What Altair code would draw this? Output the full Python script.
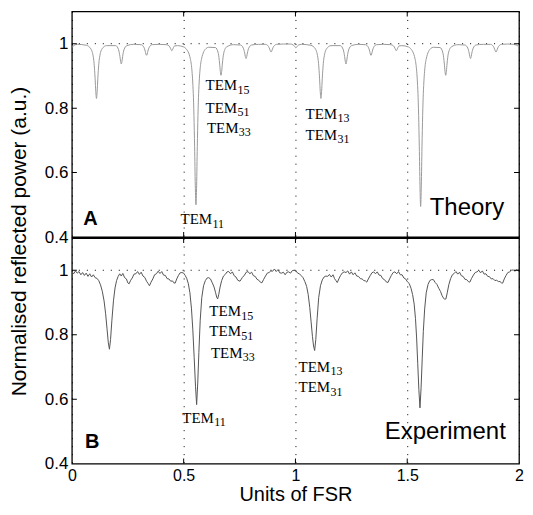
import altair as alt
import pandas as pd

# ---------------- data ----------------
theory_x = [
    0.000, 0.004, 0.010, 0.025,
    0.065, 0.085, 0.098, 0.104, 0.107, 0.110, 0.113, 0.116, 0.122, 0.135, 0.155,
    0.196, 0.209, 0.215, 0.218, 0.221, 0.224, 0.227, 0.233, 0.246, 0.277,
    0.309, 0.322, 0.328, 0.331, 0.334, 0.337, 0.340, 0.346, 0.359, 0.390,
    0.422, 0.435, 0.441, 0.444, 0.447, 0.450, 0.453, 0.459, 0.472,
    0.500, 0.510, 0.530, 0.543, 0.549, 0.552, 0.555, 0.558, 0.561, 0.567, 0.580, 0.600, 0.612,
    0.642, 0.655, 0.661, 0.664, 0.667, 0.670, 0.673, 0.679, 0.692, 0.723,
    0.754, 0.767, 0.773, 0.776, 0.779, 0.782, 0.785, 0.791, 0.804, 0.835,
    0.866, 0.879, 0.885, 0.888, 0.891, 0.894, 0.897, 0.903, 0.916, 0.946,
    0.977, 0.990, 0.996, 0.999, 1.002, 1.005, 1.008, 1.014, 1.027,
    1.069, 1.089, 1.102, 1.108, 1.111, 1.114, 1.117, 1.120, 1.126, 1.139, 1.159,
    1.201, 1.214, 1.220, 1.223, 1.226, 1.229, 1.232, 1.238, 1.251, 1.282,
    1.313, 1.326, 1.332, 1.335, 1.338, 1.341, 1.344, 1.350, 1.363, 1.394,
    1.426, 1.439, 1.445, 1.448, 1.451, 1.454, 1.457, 1.463, 1.476,
    1.505, 1.515, 1.535, 1.548, 1.554, 1.557, 1.560, 1.563, 1.566, 1.572, 1.585, 1.605, 1.617,
    1.647, 1.660, 1.666, 1.669, 1.672, 1.675, 1.678, 1.684, 1.697, 1.727,
    1.758, 1.771, 1.777, 1.780, 1.783, 1.786, 1.789, 1.795, 1.808, 1.840,
    1.872, 1.885, 1.891, 1.894, 1.897, 1.900, 1.903, 1.909, 1.922, 1.950, 1.975, 1.990, 2.000,
]
theory_y = [
    0.988, 0.991, 0.995, 0.998,
    0.995, 0.984, 0.948, 0.891, 0.851, 0.830, 0.851, 0.891, 0.948, 0.984, 0.994,
    0.994, 0.981, 0.960, 0.945, 0.937, 0.945, 0.960, 0.981, 0.994, 0.998,
    0.997, 0.989, 0.977, 0.968, 0.964, 0.968, 0.977, 0.989, 0.997, 0.998,
    0.997, 0.993, 0.986, 0.981, 0.978, 0.981, 0.986, 0.993, 0.994,
    0.990, 0.985, 0.953, 0.846, 0.680, 0.561, 0.500, 0.561, 0.680, 0.846, 0.953, 0.985, 0.989,
    0.988, 0.970, 0.937, 0.914, 0.902, 0.914, 0.937, 0.970, 0.990, 0.997,
    0.996, 0.986, 0.971, 0.960, 0.954, 0.960, 0.971, 0.986, 0.996, 0.998,
    0.998, 0.992, 0.983, 0.977, 0.974, 0.977, 0.983, 0.992, 0.998, 0.999,
    0.999, 0.996, 0.992, 0.989, 0.987, 0.989, 0.992, 0.996, 0.998,
    0.995, 0.984, 0.948, 0.891, 0.851, 0.830, 0.851, 0.891, 0.948, 0.984, 0.994,
    0.994, 0.981, 0.960, 0.945, 0.937, 0.945, 0.960, 0.981, 0.994, 0.998,
    0.997, 0.989, 0.977, 0.968, 0.964, 0.968, 0.977, 0.989, 0.997, 0.998,
    0.997, 0.993, 0.986, 0.981, 0.978, 0.981, 0.986, 0.993, 0.994,
    0.990, 0.985, 0.953, 0.846, 0.680, 0.561, 0.495, 0.561, 0.680, 0.846, 0.953, 0.985, 0.989,
    0.988, 0.970, 0.937, 0.914, 0.902, 0.914, 0.937, 0.970, 0.990, 0.997,
    0.996, 0.986, 0.971, 0.960, 0.954, 0.960, 0.971, 0.986, 0.996, 0.998,
    0.998, 0.992, 0.983, 0.977, 0.974, 0.977, 0.983, 0.992, 0.998, 0.999, 0.998, 0.995, 0.991,
]

exp_x = [
    0.000, 0.008, 0.016, 0.024, 0.032, 0.040, 0.048, 0.056, 0.064, 0.072, 0.080, 0.088, 0.096, 0.104,
    0.112, 0.120, 0.128, 0.136, 0.144, 0.151, 0.157, 0.163, 0.168, 0.173, 0.179, 0.186, 0.193, 0.200,
    0.207, 0.214, 0.221, 0.228, 0.236, 0.244, 0.250, 0.256, 0.263, 0.270, 0.278, 0.286, 0.294, 0.302,
    0.310, 0.318, 0.326, 0.334, 0.341, 0.347, 0.354, 0.362, 0.370, 0.378, 0.386, 0.394, 0.402, 0.410,
    0.418, 0.426, 0.434, 0.442, 0.450, 0.456, 0.462, 0.469, 0.476, 0.484, 0.492, 0.500, 0.507, 0.514,
    0.521, 0.528, 0.535, 0.541, 0.547, 0.553, 0.558, 0.563, 0.568, 0.574, 0.581, 0.589, 0.597, 0.605,
    0.612, 0.620, 0.628, 0.636, 0.643, 0.648, 0.652, 0.657, 0.663, 0.670, 0.678, 0.686, 0.694, 0.702,
    0.710, 0.718, 0.726, 0.734, 0.742, 0.752, 0.762, 0.772, 0.780, 0.788, 0.796, 0.804, 0.812, 0.820,
    0.828, 0.836, 0.843, 0.850, 0.858, 0.866, 0.874, 0.882, 0.890, 0.898, 0.906, 0.914, 0.922, 0.930,
    0.938, 0.946, 0.954, 0.962, 0.970, 0.978, 0.986, 0.994, 1.002, 1.010, 1.018, 1.026, 1.034, 1.042,
    1.050, 1.057, 1.064, 1.070, 1.076, 1.081, 1.086, 1.091, 1.097, 1.104, 1.112, 1.120, 1.128, 1.136,
    1.144, 1.152, 1.160, 1.168, 1.175, 1.181, 1.187, 1.194, 1.202, 1.210, 1.218, 1.226, 1.234, 1.242,
    1.250, 1.258, 1.266, 1.274, 1.282, 1.290, 1.298, 1.306, 1.313, 1.319, 1.326, 1.334, 1.342, 1.350,
    1.358, 1.366, 1.374, 1.382, 1.390, 1.398, 1.406, 1.414, 1.421, 1.429, 1.437, 1.445, 1.453, 1.461,
    1.469, 1.477, 1.485, 1.493, 1.501, 1.509, 1.517, 1.524, 1.531, 1.537, 1.542, 1.547, 1.552, 1.557,
    1.562, 1.567, 1.572, 1.578, 1.585, 1.593, 1.601, 1.609, 1.617, 1.625, 1.633, 1.641, 1.649, 1.656,
    1.662, 1.667, 1.673, 1.679, 1.686, 1.694, 1.702, 1.710, 1.718, 1.726, 1.734, 1.742, 1.750, 1.758,
    1.766, 1.773, 1.780, 1.788, 1.796, 1.804, 1.812, 1.820, 1.828, 1.836, 1.844, 1.852, 1.860, 1.868,
    1.876, 1.884, 1.892, 1.900, 1.908, 1.915, 1.921, 1.927, 1.934, 1.942, 1.950, 1.958, 1.966, 1.974,
    1.982, 1.990, 2.000,
]
exp_y = [
    0.996, 0.989, 0.998, 0.991, 0.996, 0.986, 0.993, 0.984, 0.991, 0.981, 0.989, 0.979, 0.986, 0.977,
    0.975, 0.968, 0.955, 0.935, 0.905, 0.865, 0.820, 0.775, 0.755, 0.785, 0.845, 0.905, 0.945, 0.968,
    0.981, 0.989, 0.982, 0.990, 0.977, 0.973, 0.961, 0.958, 0.969, 0.976, 0.988, 0.989, 0.996, 0.987,
    0.994, 0.982, 0.978, 0.966, 0.959, 0.952, 0.963, 0.973, 0.986, 0.989, 0.997, 0.990, 0.996, 0.985,
    0.984, 0.974, 0.973, 0.966, 0.967, 0.961, 0.960, 0.973, 0.983, 0.992, 0.993, 0.991, 0.984, 0.974,
    0.958, 0.930, 0.880, 0.815, 0.730, 0.640, 0.583, 0.650, 0.745, 0.845, 0.915, 0.952, 0.968, 0.976,
    0.977, 0.973, 0.961, 0.948, 0.930, 0.916, 0.911, 0.925, 0.948, 0.968, 0.982, 0.987, 0.995, 0.996,
    0.989, 0.995, 0.983, 0.979, 0.969, 0.966, 0.977, 0.985, 0.994, 0.996, 0.989, 0.994, 0.983, 0.981,
    0.972, 0.969, 0.963, 0.961, 0.972, 0.982, 0.991, 0.993, 0.998, 0.997, 1.004, 0.996, 1.002, 0.992,
    0.991, 0.994, 0.986, 0.994, 0.995, 0.991, 0.999, 1.000, 0.998, 0.991, 0.989, 0.983, 0.977, 0.965,
    0.950, 0.925, 0.885, 0.840, 0.795, 0.765, 0.751, 0.785, 0.850, 0.915, 0.952, 0.970, 0.979, 0.982,
    0.981, 0.987, 0.979, 0.986, 0.974, 0.968, 0.962, 0.973, 0.984, 0.992, 0.995, 0.993, 0.998, 0.988,
    0.995, 0.986, 0.992, 0.982, 0.981, 0.974, 0.973, 0.968, 0.967, 0.963, 0.973, 0.983, 0.992, 0.995,
    0.989, 0.995, 0.985, 0.984, 0.974, 0.971, 0.964, 0.962, 0.973, 0.984, 0.993, 0.995, 0.989, 0.996,
    0.986, 0.986, 0.976, 0.973, 0.964, 0.959, 0.944, 0.925, 0.895, 0.850, 0.790, 0.710, 0.630, 0.573,
    0.635, 0.725, 0.810, 0.880, 0.930, 0.956, 0.968, 0.971, 0.971, 0.962, 0.956, 0.944, 0.934, 0.921,
    0.914, 0.910, 0.911, 0.930, 0.955, 0.974, 0.986, 0.990, 0.996, 0.988, 0.994, 0.983, 0.981, 0.972,
    0.971, 0.965, 0.963, 0.975, 0.985, 0.993, 0.995, 1.000, 0.992, 0.998, 0.988, 0.989, 0.981, 0.980,
    0.973, 0.974, 0.968, 0.969, 0.965, 0.965, 0.961, 0.960, 0.973, 0.984, 0.993, 0.995, 1.000, 1.001,
    0.997, 1.002, 0.996,
]

x_ticks = [0, 0.5, 1, 1.5, 2]
y_ticks = [0.4, 0.6, 0.8, 1.0]
x_inner_ticks = [0.5, 1, 1.5]
y_inner_ticks = [0.6, 0.8, 1.0]
x_domain = [0, 2]
y_domain = [0.4, 1.1]
ref_level = [1.0]

mode_subs = ["15", "51", "33", "13", "31", "11"]
theory_label_x = [0.598, 0.598, 0.604, 1.045, 1.045, 0.486]
theory_label_y = [0.855, 0.786, 0.724, 0.767, 0.702, 0.440]
exp_label_x = [0.615, 0.615, 0.622, 1.014, 1.014, 0.494]
exp_label_y = [0.858, 0.795, 0.729, 0.685, 0.622, 0.526]

panel_names = ["Theory", "Experiment"]
panel_name_x = [1.934, 1.941]
panel_name_y = [0.469, 0.477]
panel_letters = ["A", "B"]
panel_letter_x = [0.051, 0.059]
panel_letter_y = [0.438, 0.447]

SANS = "Liberation Sans"
SERIF = "Liberation Serif"
PANEL_W = 448
PANEL_H = 226


def make_panel(i, xs, ys, line_color, lab_x, lab_y, bottom):
    xscale = alt.Scale(domain=x_domain, nice=False, zero=False)
    yscale = alt.Scale(domain=y_domain, nice=False, zero=False)

    xaxis_kw = dict(values=x_ticks, format="~g", grid=True, gridColor="#000000",
                    gridDash=[1, 7], gridWidth=1, gridOpacity=1, ticks=False,
                    domain=False, labels=bottom, labelFlush=False, labelFontSize=16,
                    labelPadding=4, labelColor="black", title="")
    if bottom:
        xaxis_kw.update(title="Units of FSR", titleFontSize=20, titleFontWeight="normal",
                        titlePadding=1, titleColor="black")
    yaxis_kw = dict(values=y_ticks, format="~g", grid=False, ticks=False, domain=False,
                    labelFontSize=17, labelPadding=4, labelColor="black", title="")
    if not bottom:
        yaxis_kw.update(title="Normalised reflected power (a.u.)", titleFontSize=21,
                        titleFontWeight="normal", titleColor="black", titleX=-42,
                        titleY=PANEL_H + 4, titleAngle=270, titleAlign="center",
                        titleBaseline="bottom")

    X = alt.X("x:Q", scale=xscale, axis=alt.Axis(**xaxis_kw))
    Y = alt.Y("y:Q", scale=yscale, axis=alt.Axis(**yaxis_kw))

    line_df = pd.DataFrame({"x": xs, "y": ys})
    ref_df = pd.DataFrame({"y": ref_level})
    xt_df = pd.DataFrame({"x": [v for v in x_inner_ticks for _ in y_domain],
                          "y": [v for _ in x_inner_ticks for v in y_domain]})
    yt_df = pd.DataFrame({"x": [v for _ in y_inner_ticks for v in x_domain],
                          "y": [v for v in y_inner_ticks for _ in x_domain]})
    lab_df = pd.DataFrame({"x": lab_x, "y": lab_y, "t": ["TEM"] * len(mode_subs), "s": mode_subs})
    name_df = pd.DataFrame({"x": [panel_name_x[i]], "y": [panel_name_y[i]], "t": [panel_names[i]]})
    letter_df = pd.DataFrame({"x": [panel_letter_x[i]], "y": [panel_letter_y[i]], "t": [panel_letters[i]]})

    ref = alt.Chart(ref_df).mark_rule(color="black", strokeDash=[1, 7], strokeWidth=1).encode(y=Y)
    line = alt.Chart(line_df).mark_line(color=line_color, strokeWidth=1, clip=True,
                                        interpolate="monotone" if not bottom else "linear").encode(x=X, y=Y)
    xt = alt.Chart(xt_df).mark_tick(orient="vertical", size=10, thickness=1, color="black",
                                     clip=True, opacity=1).encode(x=X, y=Y)
    yt = alt.Chart(yt_df).mark_tick(orient="horizontal", size=10, thickness=1, color="black",
                                     clip=True, opacity=1).encode(x=X, y=Y)
    tem = alt.Chart(lab_df).mark_text(align="left", baseline="alphabetic", font=SERIF,
                                       fontSize=15, color="black").encode(x=X, y=Y, text="t:N")
    sub = alt.Chart(lab_df).mark_text(align="left", baseline="alphabetic", font=SERIF,
                                       fontSize=12, color="black", dx=32, dy=3.5).encode(x=X, y=Y, text="s:N")
    name = alt.Chart(name_df).mark_text(align="right", baseline="alphabetic", font=SANS,
                                         fontSize=24, color="black").encode(x=X, y=Y, text="t:N")
    letter = alt.Chart(letter_df).mark_text(align="left", baseline="alphabetic", font=SANS,
                                             fontSize=20, fontWeight="bold", color="black").encode(x=X, y=Y, text="t:N")

    return alt.layer(ref, line, xt, yt, tem, sub, name, letter).properties(width=PANEL_W, height=PANEL_H)


top = make_panel(0, theory_x, theory_y, "#9a9a9a", theory_label_x, theory_label_y, False)
bottom = make_panel(1, exp_x, exp_y, "#555555", exp_label_x, exp_label_y, True)

chart = alt.vconcat(top, bottom, spacing=1, bounds="flush").properties(
    padding={"left": 0, "top": 2, "right": 0, "bottom": 0},
    background="white",
).configure_view(stroke="black", strokeWidth=1.3).configure_axis(
    labelFont=SANS, titleFont=SANS
)

chart.save("out.html", embed_options={"renderer": "svg", "actions": False})
